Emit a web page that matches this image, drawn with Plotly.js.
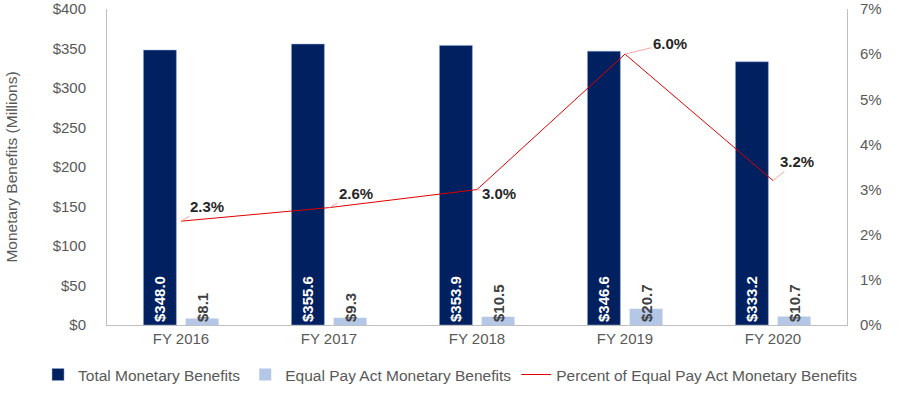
<!DOCTYPE html>
<html><head><meta charset="utf-8">
<script src="https://cdn.plot.ly/plotly-3.0.1.min.js"></script>
<style>html,body{margin:0;padding:0;background:#fff}#chart{width:900px;height:395px}</style>
</head><body><div id="chart"></div>
<script>
const categories = ["FY 2016","FY 2017","FY 2018","FY 2019","FY 2020"];
const totalBenefits = [348.0, 355.6, 353.9, 346.6, 333.2];
const epaBenefits = [8.1, 9.3, 10.5, 20.7, 10.7];
const epaPercent = [2.3, 2.6, 3.0, 6.0, 3.2];
const yTicks = [0,50,100,150,200,250,300,350,400];
const y2Ticks = [0,1,2,3,4,5,6,7];
// label offsets (pixels) for percent labels
const pctOffsets = [[26,-15],[27,-14],[22,4],[45,-11],[24,-19]];

const fontFam = '"Liberation Sans", Arial, sans-serif';
const gray = '#595959';

const traces = [
  {type:'bar', name:'Total Monetary Benefits', x:categories, y:totalBenefits,
   marker:{color:'#002060', line:{color:'#8EA9DB', width:0.5}},
   text: totalBenefits.map(v=>'$'+v.toFixed(1)), textposition:'inside', insidetextanchor:'start',
   textangle:-90, constraintext:'none',
   textfont:{color:'#ffffff', size:15, family:fontFam, weight:'bold'}, hoverinfo:'skip'},
  {type:'bar', name:'Equal Pay Act Monetary Benefits', x:categories, y:epaBenefits,
   marker:{color:'#B4C7E7'},
   text: epaBenefits.map(v=>'$'+v.toFixed(1)), textposition:'inside', insidetextanchor:'start',
   textangle:-90, constraintext:'none',
   textfont:{color:'#404040', size:15, family:fontFam, weight:'bold'}, hoverinfo:'skip'},
  {type:'scatter', mode:'lines', name:'Percent of Equal Pay Act Monetary Benefits', x:categories, y:epaPercent,
   yaxis:'y2', line:{color:'#E00000', width:1}, hoverinfo:'skip'}
];

const annotations = epaPercent.map((v,i)=>({
  x:categories[i], y:v, xref:'x', yref:'y2', text:'<b>'+v.toFixed(1)+'%</b>',
  showarrow:true, arrowhead:0, arrowwidth:1, arrowcolor:'#F4A6A6',
  ax:pctOffsets[i][0], ay:pctOffsets[i][1],
  font:{size:15, color:'#262626', family:fontFam}
}));

const layout = {
  width:900, height:395,
  margin:{l:107, r:53, t:9, b:70, autoexpand:false},
  paper_bgcolor:'#fff', plot_bgcolor:'#fff',
  font:{family:fontFam, color:gray, size:15},
  barmode:'group', bargap:0.43, bargroupgap:0.22,
  showlegend:true,
  legend:{orientation:'h', x:-0.0932, xanchor:'left', y:-0.158, yanchor:'middle',
    font:{size:15.5, color:gray}, itemwidth:30},
  xaxis:{showline:true, linecolor:'#BFBFBF', linewidth:1, ticks:'', tickfont:{size:15, color:gray}, fixedrange:true},
  yaxis:{range:[0,400], tickvals:yTicks, ticktext:yTicks.map(v=>'$'+v), showgrid:false, zeroline:false,
    showline:true, linecolor:'#BFBFBF', ticks:'', ticklabelstandoff:17,
    tickfont:{size:15, color:gray},
    title:{text:'Monetary Benefits (Millions)', font:{size:15.5, color:gray}, standoff:31}},
  yaxis2:{range:[0,7], overlaying:'y', side:'right', tickvals:y2Ticks, ticktext:y2Ticks.map(v=>v+'%'),
    showgrid:false, zeroline:false,
    showline:true, linecolor:'#BFBFBF', ticks:'', ticklabelstandoff:9, tickfont:{size:15, color:gray}},
  annotations: annotations
};
Plotly.newPlot('chart', traces, layout, {displayModeBar:false, staticPlot:true});
</script></body></html>
